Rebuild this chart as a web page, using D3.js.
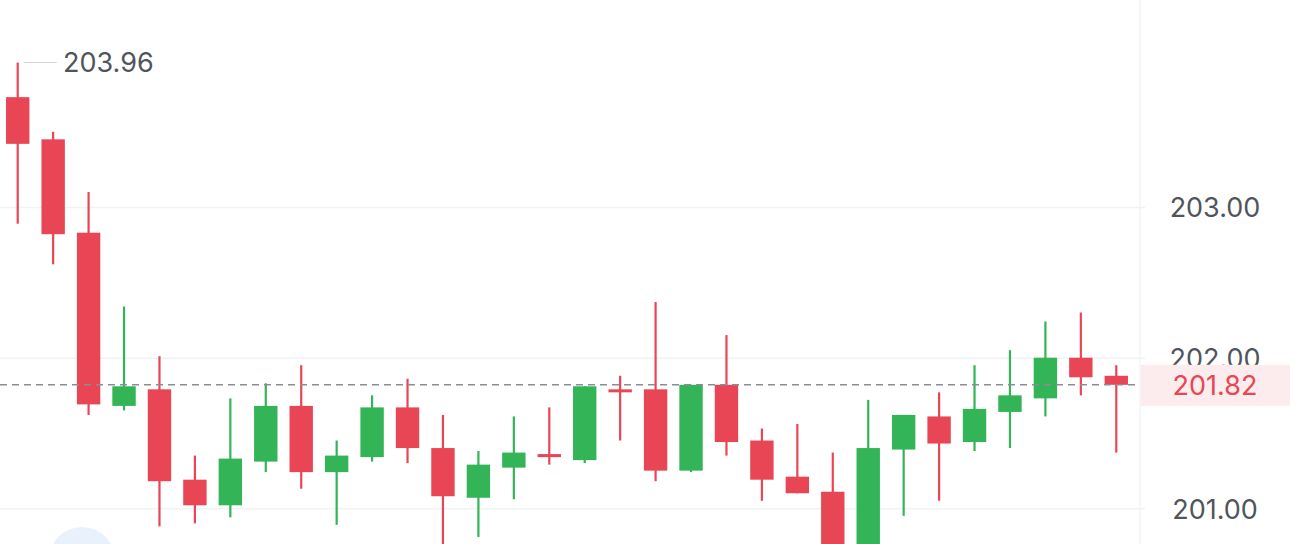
<!DOCTYPE html>
<html>
<head>
<meta charset="utf-8">
<script src="https://cdn.jsdelivr.net/npm/d3@7/dist/d3.min.js"></script>
<style>
  html, body { margin: 0; padding: 0; background: #ffffff; overflow: hidden; }
  svg { display: block; font-family: Inter, Roboto, "Noto Sans", sans-serif; }
</style>
</head>
<body>
<svg id="chart" width="1290" height="544"></svg>
<script>
// ---- data ----
const opens  = [203.73, 203.45, 202.83, 201.68, 201.79, 201.19, 201.02, 201.31, 201.68, 201.24, 201.34, 201.67, 201.40, 201.07, 201.27, 201.36,
                201.32, 201.79, 201.79, 201.25, 201.82, 201.45, 201.21, 201.11, 200.72, 201.39, 201.61, 201.44, 201.64, 201.73, 202.00, 201.88];
const closes = [203.42, 202.82, 201.69, 201.81, 201.18, 201.02, 201.33, 201.68, 201.24, 201.35, 201.67, 201.40, 201.08, 201.29, 201.37, 201.34,
                201.81, 201.77, 201.25, 201.82, 201.44, 201.19, 201.10, 200.72, 201.40, 201.62, 201.43, 201.66, 201.75, 202.00, 201.87, 201.82];
const highs  = [203.96, 203.50, 203.10, 202.34, 202.01, 201.35, 201.73, 201.83, 201.95, 201.45, 201.75, 201.86, 201.62, 201.38, 201.61, 201.67,
                201.81, 201.88, 202.37, 201.82, 202.15, 201.53, 201.56, 201.37, 201.72, 201.62, 201.77, 201.95, 202.05, 202.24, 202.30, 201.95];
const lows   = [202.89, 202.62, 201.62, 201.65, 200.88, 200.90, 200.94, 201.24, 201.13, 200.89, 201.31, 201.30, 200.70, 200.81, 201.06, 201.29,
                201.30, 201.45, 201.18, 201.24, 201.35, 201.05, 201.10, 200.65, 200.66, 200.95, 201.05, 201.38, 201.40, 201.61, 201.75, 201.37];
const tickValues = [203, 202, 201];
const tickLabels = ["203.00", "202.00", "201.00"];
const lastPrice = 201.82;
const lastPriceLabel = "201.82";
const maxLabel = "203.96";

const candles = opens.map((o, i) => ({ i, o, c: closes[i], h: highs[i], l: lows[i] }));

// ---- layout ----
const W = 1290, H = 544;
const plotRight = 1140;
const RED = "#e84654", GREEN = "#33b457";
const FONT = "Inter, Roboto, 'Noto Sans', sans-serif";
const FS = "27px";

const svg = d3.select("#chart");

const x = d3.scaleBand()
  .domain(candles.map(d => d.i))
  .range([0, 1134])
  .paddingInner(0.34)
  .paddingOuter(0.17);

const y = d3.scaleLinear().domain([201, 203]).range([508.3, 207.1]);

// background
svg.append("rect").attr("width", W).attr("height", H).attr("fill", "#ffffff");

// horizontal grid
svg.append("g")
  .attr("transform", `translate(${plotRight + 5},0)`)
  .call(d3.axisLeft(y).tickValues(tickValues).tickSize(plotRight + 5).tickFormat(""))
  .call(g => g.select(".domain").remove())
  .call(g => g.selectAll(".tick line").attr("stroke", "#f0f3f6").attr("stroke-width", 1.5));

// vertical separator of the price axis
svg.append("line")
  .attr("x1", plotRight).attr("x2", plotRight)
  .attr("y1", 0).attr("y2", H)
  .attr("stroke", "#f0f3f6").attr("stroke-width", 1.5);

// price axis labels
svg.append("g")
  .attr("transform", `translate(${plotRight},0)`)
  .call(d3.axisRight(y).tickValues(tickValues).tickSize(0).tickFormat((d, i) => tickLabels[i]))
  .call(g => g.select(".domain").remove())
  .call(g => g.selectAll(".tick text")
    .attr("x", 75).attr("dy", "0.36em")
    .attr("text-anchor", "middle")
    .attr("fill", "#50555c")
    .style("font-size", FS)
    .style("font-family", FONT));

// wicks
svg.append("g").selectAll("line.wick")
  .data(candles).join("line")
  .attr("class", "wick")
  .attr("x1", d => x(d.i) + x.bandwidth() / 2)
  .attr("x2", d => x(d.i) + x.bandwidth() / 2)
  .attr("y1", d => y(d.h))
  .attr("y2", d => y(d.l))
  .attr("stroke", d => d.c >= d.o ? GREEN : RED)
  .attr("stroke-width", 2.2);

// bodies
svg.append("g").selectAll("rect.body")
  .data(candles).join("rect")
  .attr("class", "body")
  .attr("x", d => x(d.i))
  .attr("width", x.bandwidth())
  .attr("y", d => y(Math.max(d.o, d.c)))
  .attr("height", d => Math.max(2.5, Math.abs(y(d.o) - y(d.c))))
  .attr("fill", d => d.c >= d.o ? GREEN : RED);

// last price dashed line
svg.append("line")
  .attr("x1", 0).attr("x2", plotRight)
  .attr("y1", y(lastPrice)).attr("y2", y(lastPrice))
  .attr("stroke", "#8a8d91").attr("stroke-width", 1.4)
  .attr("stroke-dasharray", "7,5");

// last price tag
svg.append("rect")
  .attr("x", plotRight + 1).attr("y", y(lastPrice) - 20)
  .attr("width", W - plotRight).attr("height", 41)
  .attr("fill", "#fdeced");
svg.append("text")
  .attr("x", plotRight + 75).attr("y", y(lastPrice))
  .attr("dy", "0.36em").attr("text-anchor", "middle")
  .attr("fill", RED).style("font-size", FS).style("font-family", FONT)
  .text(lastPriceLabel);

// max label with leader
const first = candles[0];
const maxY = y(first.h);
svg.append("line")
  .attr("x1", x(first.i) + x.bandwidth() / 2 + 6).attr("x2", x(first.i) + x.bandwidth() / 2 + 39)
  .attr("y1", maxY).attr("y2", maxY)
  .attr("stroke", "#d2d4d7").attr("stroke-width", 1.2);
svg.append("text")
  .attr("x", 63).attr("y", maxY)
  .attr("dy", "0.36em")
  .attr("fill", "#50555c").style("font-size", FS).style("font-family", FONT)
  .text(maxLabel);

// floating button partially visible at the bottom-left
svg.append("circle")
  .attr("cx", 82).attr("cy", 560).attr("r", 33)
  .attr("fill", "#e9f1fc");
</script>
</body>
</html>
